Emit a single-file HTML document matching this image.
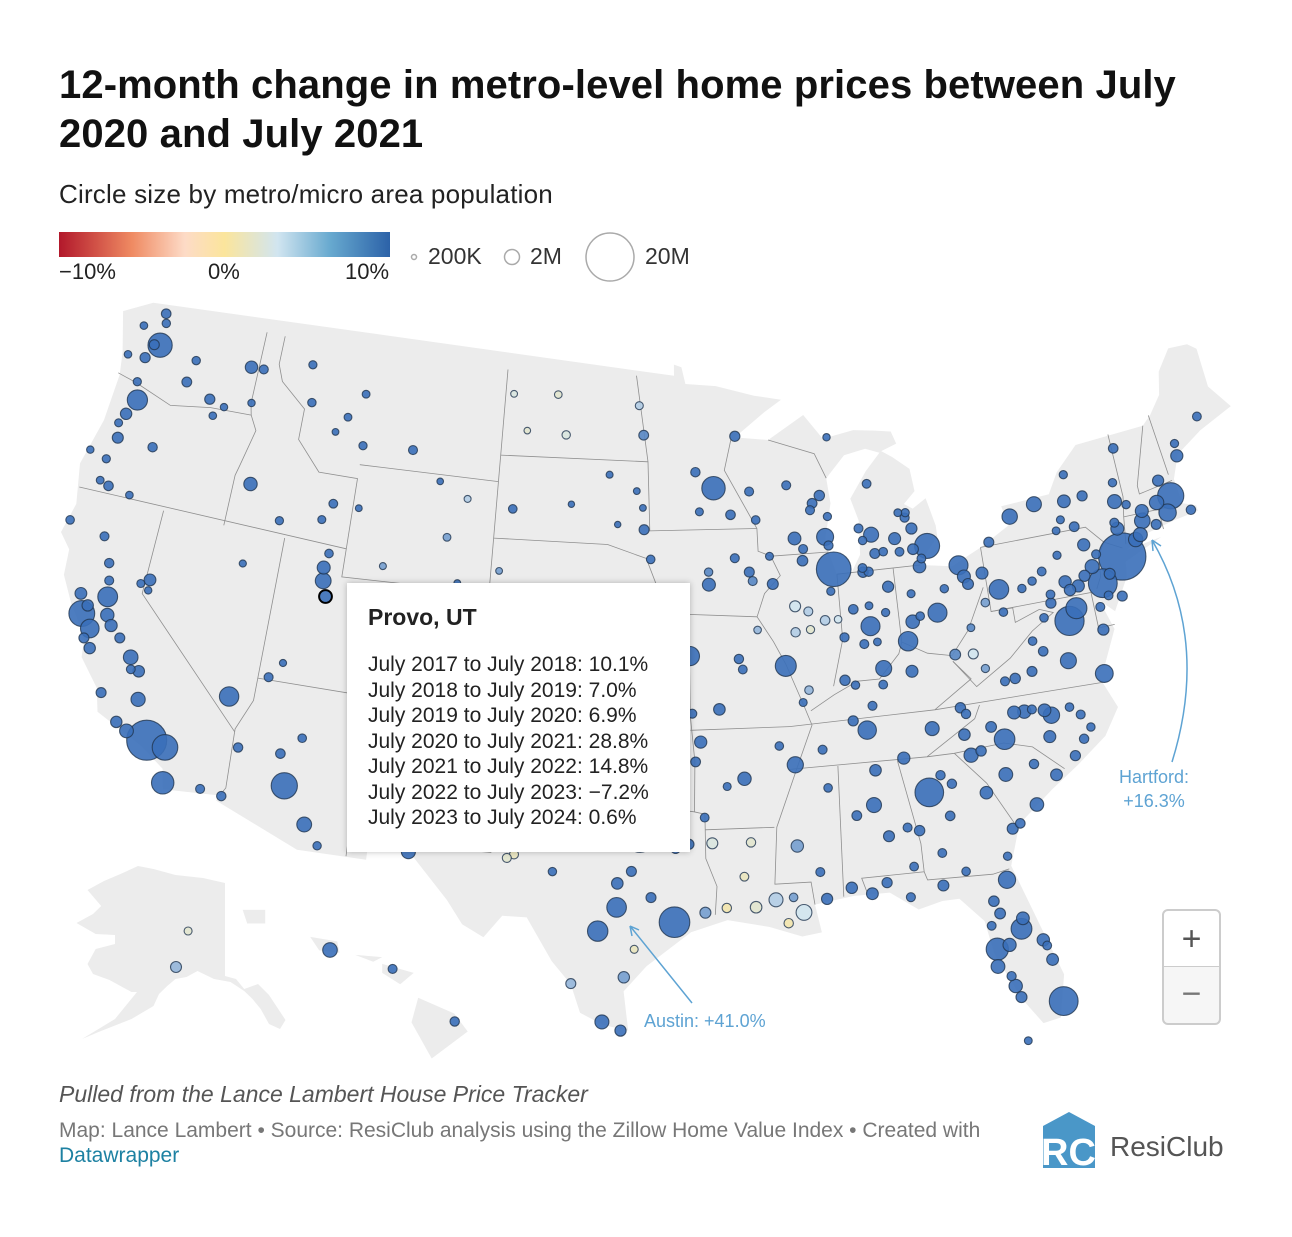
<!DOCTYPE html>
<html><head><meta charset="utf-8">
<style>
body{margin:0;background:#fff;font-family:"Liberation Sans",sans-serif;}
#wrap{position:relative;width:1292px;height:1237px;overflow:hidden;background:#fff;}
.t{position:absolute;white-space:nowrap;}
</style></head>
<body>
<div id="wrap">
<div class="t" style="left:59px;top:61px;font-size:40px;font-weight:bold;color:#111;line-height:49px;letter-spacing:0.1px;">12-month change in metro-level home prices between July<br>2020 and July 2021</div>
<div class="t" style="left:59px;top:179px;font-size:26px;color:#222;letter-spacing:0.2px;">Circle size by metro/micro area population</div>
<div style="position:absolute;left:59px;top:232px;width:331px;height:25px;background:linear-gradient(90deg,#b2182b 0%,#ef8a62 22%,#fddbc7 38%,#fbe59c 50%,#d1e5f0 66%,#67a9cf 82%,#2c62a8 100%);"></div>
<div class="t" style="left:59px;top:259px;font-size:22px;color:#222;">−10%</div>
<div class="t" style="left:208px;top:259px;font-size:22px;color:#222;">0%</div>
<div class="t" style="left:345px;top:259px;font-size:22px;color:#222;">10%</div>
<div class="t" style="left:428px;top:243px;font-size:23px;color:#333;">200K</div>
<div class="t" style="left:530px;top:243px;font-size:23px;color:#333;">2M</div>
<div class="t" style="left:645px;top:243px;font-size:23px;color:#333;">20M</div>

<svg id="map" width="1292" height="1237" style="position:absolute;left:0;top:0;">
<circle cx="414" cy="257" r="2.5" fill="none" stroke="#aaa" stroke-width="1.5"/>
<circle cx="512" cy="257" r="7.5" fill="none" stroke="#aaa" stroke-width="1.5"/>
<circle cx="610" cy="257" r="24" fill="none" stroke="#aaa" stroke-width="1.5"/>
<g id="land"></g><g id="borders"></g><g id="dots"></g><g id="annot"></g>
</svg>

<div style="position:absolute;left:347px;top:583px;width:343px;height:269px;background:#fff;box-shadow:0 0 6px rgba(0,0,0,0.25);">
<div class="t" style="left:21px;top:21px;font-size:23px;font-weight:bold;color:#222;">Provo, UT</div>
<div class="t" style="left:21px;top:69px;font-size:21px;color:#222;line-height:25.5px;">July 2017 to July 2018: 10.1%<br>July 2018 to July 2019: 7.0%<br>July 2019 to July 2020: 6.9%<br>July 2020 to July 2021: 28.8%<br>July 2021 to July 2022: 14.8%<br>July 2022 to July 2023: −7.2%<br>July 2023 to July 2024: 0.6%</div>
</div>

<div class="t" style="left:1119px;top:765px;font-size:18px;color:#5ea3d3;text-align:center;line-height:24px;">Hartford:<br>+16.3%</div>
<div class="t" style="left:644px;top:1011px;font-size:18px;color:#5ea3d3;">Austin: +41.0%</div>

<div style="position:absolute;left:1162px;top:909px;width:55px;height:56px;border:2px solid #ccc;border-bottom:1px solid #ccc;border-radius:6px 6px 0 0;background:#fff;font-size:34px;color:#555;text-align:center;line-height:56px;">+</div>
<div style="position:absolute;left:1162px;top:966px;width:55px;height:56px;border:2px solid #ccc;border-top:1px solid #ccc;border-radius:0 0 6px 6px;background:#f6f6f6;font-size:34px;color:#777;text-align:center;line-height:54px;">−</div>

<div class="t" style="left:59px;top:1081px;font-size:23px;font-style:italic;color:#555;">Pulled from the Lance Lambert House Price Tracker</div>
<div class="t" style="left:59px;top:1119px;font-size:21px;color:#777;">Map: Lance Lambert • Source: ResiClub analysis using the Zillow Home Value Index • Created with</div>
<div class="t" style="left:59px;top:1144px;font-size:21px;color:#1d81a2;">Datawrapper</div>
<svg width="56" height="58" style="position:absolute;left:1041px;top:1112px;">
<polygon points="28,0 54,14 54,56 2,56 2,14" fill="#4a97c8"/>
<text x="0" y="53" font-family="Liberation Sans" font-weight="bold" font-size="38" fill="#fff">RC</text>
</svg>
<div class="t" style="left:1110px;top:1131px;font-size:28px;color:#555;">ResiClub</div>
</div>

<script>
// metro data: [name, lon, lat, population (thousands), 12-month change %]
const metros = [
["Seattle",-122.33,47.61,4000,17],["Portland",-122.68,45.52,2500,14],["Spokane",-117.43,47.66,590,25],["Bellingham",-122.48,48.75,230,20],["Olympia",-122.9,47.04,300,20],["Bremerton",-122.63,47.57,275,20],["Mount Vernon",-122.33,48.42,130,20],["Wenatchee",-120.31,47.42,120,18],["Yakima",-120.5,46.6,250,15],["Kennewick",-119.14,46.21,300,18],["Walla Walla",-118.34,46.06,60,15],["Longview WA",-122.94,46.14,110,20],["Aberdeen",-123.8,46.98,75,22],["Port Angeles",-123.43,48.12,77,20],["Salem",-123.03,44.94,430,17],["Eugene",-123.09,44.05,380,17],["Corvallis",-123.26,44.56,95,15],["Bend",-121.31,44.06,200,20],["Medford",-122.87,42.33,220,16],["Grants Pass",-123.33,42.44,88,18],["Klamath Falls",-121.78,42.22,68,18],["Roseburg",-123.34,43.22,110,18],["Coos Bay",-124.22,43.37,64,20],["Pendleton",-118.79,45.67,75,15],
["Boise",-116.2,43.62,750,30],["Idaho Falls",-112.03,43.49,150,25],["Pocatello",-112.45,42.87,95,22],["Twin Falls",-114.46,42.56,110,22],["Coeur d'Alene",-116.78,47.68,170,30],["Lewiston",-117.02,46.42,63,22],["Missoula",-113.99,46.87,120,22],["Billings",-108.5,45.78,180,17],["Great Falls",-111.3,47.5,82,15],["Bozeman",-111.04,45.68,115,25],["Helena",-112.03,46.59,80,18],["Kalispell",-114.31,48.2,105,25],["Butte",-112.53,46.0,35,18],["Casper",-106.31,42.87,80,8],["Cheyenne",-104.82,41.14,100,14],["Rock Springs",-109.2,41.59,43,8],["Sheridan",-106.95,44.8,30,10],["Gillette",-105.5,44.29,47,6],["Jackson",-110.76,43.48,35,20],["Laramie",-105.59,41.31,38,12],["Rapid City",-103.23,44.08,145,17],
["Salt Lake City",-111.89,40.76,1250,25],["Ogden",-111.97,41.22,700,25],["Logan",-111.83,41.74,140,25],["St George",-113.58,37.1,180,28],["Cedar City",-113.06,37.68,55,22],["Denver",-104.99,39.74,2950,17],["Colorado Springs",-104.82,38.83,750,19],["Fort Collins",-105.08,40.59,360,17],["Boulder",-105.27,40.01,330,17],["Greeley",-104.71,40.42,330,17],["Pueblo",-104.61,38.25,170,17],["Grand Junction",-108.55,39.06,155,17],["Durango",-107.88,37.28,56,15],["Las Vegas",-115.14,36.17,2260,22],["Reno",-119.81,39.53,490,20],["Carson City",-119.77,39.16,58,20],["Elko",-115.76,40.83,53,15],["Phoenix",-112.07,33.45,4900,29],["Tucson",-110.97,32.22,1050,22],["Flagstaff",-111.65,35.2,145,20],["Prescott",-112.47,34.54,235,25],["Lake Havasu",-114.32,34.48,210,25],["Yuma",-114.62,32.69,210,16],["Sierra Vista",-110.3,31.55,125,14],["Albuquerque",-106.65,35.08,920,15],["Santa Fe",-105.94,35.69,150,15],["Las Cruces",-106.76,32.32,220,15],["Farmington",-108.21,36.73,120,10],
["Los Angeles",-118.24,34.05,13200,17],["Riverside",-117.4,33.95,4600,20],["San Diego",-117.16,32.72,3300,18],["San Francisco",-122.42,37.77,4700,17],["San Jose",-121.89,37.34,2000,17],["Sacramento",-121.49,38.58,2400,19],["Fresno",-119.79,36.74,1000,17],["Bakersfield",-119.02,35.37,900,16],["Stockton",-121.29,37.96,780,20],["Modesto",-121,37.64,550,20],["Santa Rosa",-122.71,38.44,490,16],["Oxnard",-119.18,34.2,840,15],["Santa Barbara",-119.7,34.42,450,14],["San Luis Obispo",-120.66,35.28,280,16],["Salinas",-121.66,36.68,435,16],["Santa Cruz",-122.03,36.97,270,16],["Vallejo",-122.26,38.1,450,18],["Visalia",-119.29,36.33,470,16],["Merced",-120.48,37.3,280,18],["Chico",-121.84,39.73,210,17],["Redding",-122.39,40.59,180,17],["Eureka",-124.16,40.8,135,15],["Yuba City",-121.62,39.14,175,19],["El Centro",-115.56,32.79,180,15],["Hanford",-119.65,36.33,150,17],["Truckee",-120.18,39.33,100,20],
["Dallas",-96.8,32.78,7600,20],["Houston",-95.37,29.76,7100,12],["San Antonio",-98.49,29.42,2550,15],["Austin",-97.74,30.27,2300,41],["El Paso",-106.49,31.76,860,14],["Midland",-102.08,31.99,180,2],["Odessa",-102.37,31.85,165,3],["Lubbock",-101.86,33.58,320,14],["Amarillo",-101.83,35.22,265,12],["Wichita Falls",-98.49,33.91,150,10],["Abilene",-99.73,32.45,175,12],["San Angelo",-100.44,31.46,120,10],["Waco",-97.15,31.55,275,20],["Killeen",-97.73,31.12,460,18],["Tyler",-95.3,32.35,235,15],["Longview TX",-94.74,32.5,285,14],["Beaumont",-94.1,30.08,390,8],["Corpus Christi",-97.4,27.8,430,8],["Laredo",-99.5,27.53,275,7],["McAllen",-98.23,26.2,870,12],["Brownsville",-97.5,25.9,425,12],["College Station",-96.33,30.63,270,16],["Victoria",-97,28.8,100,2],["Sherman",-96.6,33.64,140,20],["Texarkana",-94.05,33.43,150,10],["Oklahoma City",-97.52,35.47,1430,14],["Tulsa",-95.99,36.15,1000,15],["Lawton",-98.39,34.6,125,8],["Enid",-97.88,36.4,60,6],["Little Rock",-92.29,34.75,750,12],["Fayetteville AR",-94.16,36.08,550,18],["Fort Smith",-94.4,35.39,250,12],["Jonesboro",-90.7,35.84,135,12],["Hot Springs",-93.05,34.5,100,15],["Shreveport",-93.75,32.52,395,4],["Monroe",-92.12,32.51,200,3],["Alexandria",-92.45,31.31,150,2],["Lafayette",-92.02,30.22,480,3],["Lake Charles",-93.22,30.23,210,1],["Baton Rouge",-91.19,30.45,870,6],["New Orleans",-90.07,29.95,1270,5],["Houma",-90.72,29.6,205,1],["Hammond",-90.46,30.5,135,8],["Jackson MS",-90.18,32.3,590,8],["Gulfport",-89.09,30.37,420,15],["Hattiesburg",-89.29,31.33,170,12],["Tupelo",-88.7,34.26,140,10],
["Memphis",-90.05,35.15,1340,15],["Nashville",-86.78,36.16,1930,20],["Knoxville",-83.92,35.96,880,20],["Chattanooga",-85.31,35.05,560,20],["Clarksville",-87.36,36.53,300,18],["Johnson City",-82.35,36.31,205,18],["Kingsport",-82.56,36.55,305,18],["Jackson TN",-88.81,35.61,180,14],["Birmingham",-86.8,33.52,1100,13],["Huntsville",-86.59,34.73,470,18],["Montgomery",-86.3,32.38,385,10],["Mobile",-88.04,30.69,430,12],["Tuscaloosa",-87.57,33.21,250,13],["Dothan",-85.39,31.22,150,14],["Auburn",-85.48,32.61,165,15],["Atlanta",-84.39,33.75,6000,17],["Augusta",-81.97,33.47,610,15],["Savannah",-81.1,32.08,400,17],["Columbus GA",-84.99,32.46,320,13],["Macon",-83.63,32.84,230,15],["Athens",-83.38,33.95,215,17],["Albany GA",-84.16,31.58,150,12],["Valdosta",-83.28,30.83,145,14],["Gainesville GA",-83.82,34.3,205,20],["Brunswick",-81.49,31.15,120,18],
["Jacksonville",-81.66,30.33,1600,20],["Tampa",-82.46,27.95,3200,22],["Orlando",-81.38,28.54,2700,17],["Miami",-80.19,25.76,6100,18],["Cape Coral",-81.95,26.56,770,25],["Sarasota",-82.53,27.34,830,25],["Lakeland",-81.95,28.04,720,22],["Palm Bay",-80.59,28.03,600,22],["Port St Lucie",-80.35,27.29,490,24],["Deltona",-81.26,28.9,670,22],["Naples",-81.79,26.14,380,25],["Ocala",-82.14,29.19,370,20],["Gainesville FL",-82.32,29.65,330,18],["Tallahassee",-84.28,30.44,385,15],["Pensacola",-87.22,30.42,500,20],["Panama City",-85.66,30.16,175,20],["Crestview",-86.57,30.76,285,22],["Punta Gorda",-82.05,26.93,190,25],["Sebastian",-80.47,27.81,160,24],["Homosassa",-82.55,28.8,150,22],["Key West",-81.78,24.56,80,20],
["Charlotte",-80.84,35.23,2600,18],["Raleigh",-78.64,35.78,1400,20],["Durham",-78.9,35.99,650,18],["Greensboro",-79.79,36.07,770,16],["Winston-Salem",-80.24,36.1,680,16],["Fayetteville NC",-78.88,35.05,520,14],["Wilmington NC",-77.94,34.23,300,18],["Asheville",-82.55,35.6,470,18],["Hickory",-81.34,35.73,370,17],["Greenville NC",-77.37,35.61,180,14],["Jacksonville NC",-77.43,34.75,200,14],["Rocky Mount",-77.79,35.94,145,15],["New Bern",-77.04,35.11,125,15],["Burlington NC",-79.44,36.1,170,18],["Columbia SC",-81.03,34,840,15],["Charleston SC",-79.93,32.78,800,18],["Greenville SC",-82.39,34.85,930,16],["Spartanburg",-81.93,34.95,320,17],["Myrtle Beach",-78.89,33.69,500,18],["Florence",-79.76,34.2,205,12],["Hilton Head",-80.75,32.22,220,20],["Virginia Beach",-75.98,36.85,1800,12],["Richmond",-77.44,37.54,1300,14],["Roanoke",-79.94,37.27,315,14],["Lynchburg",-79.14,37.41,260,12],["Charlottesville",-78.48,38.03,220,14],["Harrisonburg",-78.87,38.45,135,15],["Blacksburg",-80.41,37.23,165,14],["Winchester",-78.16,39.18,140,17],
["Washington",-77.04,38.9,6300,10],["Baltimore",-76.61,39.29,2800,12],["Salisbury",-75.6,38.36,420,17],["Hagerstown",-77.72,39.64,290,18],["Dover",-75.52,39.16,180,15],["Philadelphia",-75.17,39.95,6100,14],["Pittsburgh",-79.99,40.44,2300,12],["Allentown",-75.49,40.6,860,17],["Harrisburg",-76.88,40.27,590,16],["Lancaster",-76.31,40.04,550,15],["York",-76.73,39.96,450,16],["Reading",-75.93,40.34,420,18],["Scranton",-75.66,41.41,560,17],["Erie",-80.09,42.13,270,13],["State College",-77.86,40.79,160,10],["Williamsport",-77.0,41.24,115,14],["Johnstown",-78.92,40.33,130,12],["Altoona",-78.39,40.52,120,12],["Chambersburg",-77.66,39.94,155,17],["East Stroudsburg",-75.18,40.99,170,20],
["New York",-74.0,40.71,19200,17],["Bridgeport",-73.2,41.18,950,20],["Hartford",-72.68,41.76,1200,16],["New Haven",-72.93,41.31,860,18],["Norwich",-72.08,41.52,270,18],["Boston",-71.06,42.36,4900,17],["Providence",-71.41,41.82,1650,20],["Worcester",-71.8,42.26,950,20],["Springfield MA",-72.59,42.1,700,17],["Barnstable",-70.3,41.7,215,25],["Pittsfield",-73.25,42.45,125,20],["Manchester NH",-71.46,42.99,420,20],["Portland ME",-70.26,43.66,550,22],["Bangor",-68.77,44.8,150,20],["Lewiston ME",-70.21,44.1,110,22],["Burlington VT",-73.21,44.48,225,15],["Albany",-73.76,42.65,880,15],["Buffalo",-78.88,42.89,1160,16],["Rochester NY",-77.61,43.16,1070,16],["Syracuse",-76.15,43.05,650,14],["Utica",-75.23,43.1,290,15],["Binghamton",-75.92,42.1,240,14],["Ithaca",-76.5,42.44,100,12],["Elmira",-76.81,42.09,85,14],["Kingston",-74,41.93,180,20],["Watertown NY",-75.91,43.97,115,12],["Glens Falls",-73.64,43.31,125,16],["Poughkeepsie",-73.93,41.7,700,20],["Atlantic City",-74.42,39.36,270,20],["Trenton",-74.76,40.22,380,16],["Vineland",-75.03,39.49,150,18],
["Chicago",-87.63,41.88,9500,12],["Detroit",-83.05,42.33,4300,14],["Grand Rapids",-85.67,42.96,1080,17],["Lansing",-84.56,42.73,540,16],["Ann Arbor",-83.74,42.28,370,12],["Flint",-83.69,43.01,405,18],["Kalamazoo",-85.59,42.29,265,17],["Saginaw",-83.95,43.42,190,16],["Muskegon",-86.25,43.23,175,20],["Traverse City",-85.62,44.76,150,18],["Battle Creek",-85.18,42.32,135,17],["Jackson MI",-84.4,42.25,160,17],["Monroe MI",-83.4,41.92,150,16],["Niles",-86.25,41.83,155,17],["Holland",-86.11,42.79,120,17],["Marquette",-87.4,46.54,67,15],["Bay City",-83.89,43.59,104,16],["Midland MI",-84.25,43.62,83,15],
["Columbus",-82.99,39.96,2100,16],["Cleveland",-81.69,41.5,2100,14],["Cincinnati",-84.51,39.1,2250,14],["Dayton",-84.19,39.76,800,14],["Akron",-81.52,41.08,700,15],["Toledo",-83.54,41.65,640,16],["Youngstown",-80.65,41.1,540,14],["Canton",-81.38,40.8,400,15],["Springfield OH",-83.81,39.92,135,15],["Mansfield",-82.52,40.76,125,14],["Lima",-84.1,40.74,100,14],["Indianapolis",-86.16,39.77,2100,15],["Fort Wayne",-85.14,41.08,420,17],["South Bend",-86.25,41.68,325,17],["Evansville",-87.56,37.97,315,14],["Lafayette IN",-86.88,40.42,225,14],["Bloomington IN",-86.53,39.17,170,13],["Terre Haute",-87.41,39.47,185,14],["Elkhart",-85.98,41.68,205,17],["Muncie",-85.39,40.19,115,15],["Kokomo",-86.13,40.49,85,15],["Columbus IN",-85.92,39.2,83,14],["Louisville",-85.76,38.25,1300,12],["Lexington",-84.5,38.04,520,12],["Bowling Green",-86.44,36.99,180,13],["Owensboro",-87.11,37.77,120,12],["Elizabethtown",-85.86,37.69,155,12],
["Milwaukee",-87.91,43.04,1580,13],["Madison",-89.4,43.07,670,13],["Green Bay",-88.02,44.51,325,14],["Appleton",-88.41,44.26,240,14],["Oshkosh",-88.54,44.02,170,13],["Eau Claire",-91.5,44.81,170,13],["La Crosse",-91.24,43.8,140,12],["Wausau",-89.63,44.96,165,14],["Racine",-87.78,42.73,195,13],["Janesville",-89.02,42.68,165,14],["Sheboygan",-87.71,43.75,115,14],["Minneapolis",-93.27,44.98,3650,11],["Rochester MN",-92.47,44.02,225,10],["St Cloud",-94.16,45.56,200,12],["Duluth",-92.1,46.79,290,13],["Mankato",-94,44.16,100,10],["Des Moines",-93.62,41.59,700,10],["Cedar Rapids",-91.67,41.98,275,10],["Davenport",-90.58,41.52,380,11],["Iowa City",-91.53,41.66,175,9],["Waterloo",-92.34,42.49,170,10],["Sioux City",-96.4,42.5,145,11],["Dubuque",-90.66,42.5,98,10],["Ames",-93.62,42.03,125,9],["Omaha",-95.94,41.26,950,13],["Lincoln",-96.7,40.81,340,13],["Grand Island",-98.34,40.92,75,12],["Kearney",-99.08,40.7,56,12],["North Platte",-100.77,41.12,36,10],["Scottsbluff",-103.66,41.87,38,8],["Sioux Falls",-96.73,43.54,275,14],["Fargo",-96.79,46.88,250,9],["Bismarck",-100.78,46.81,130,4],["Grand Forks",-97.03,47.93,100,6],["Minot",-101.3,48.23,75,3],["Williston",-103.62,48.15,37,4],["Dickinson",-102.79,46.88,31,3],["Aberdeen SD",-98.49,45.46,43,10],["Watertown SD",-97.11,44.9,35,12],["Brookings",-96.8,44.31,35,11],["Mitchell",-98.03,43.71,23,10],["Pierre",-100.35,44.37,20,10],
["Kansas City",-94.58,39.1,2200,14],["St Louis",-90.2,38.63,2800,12],["Springfield MO",-93.29,37.21,470,15],["Columbia MO",-92.33,38.95,210,13],["Joplin",-94.51,37.08,180,14],["Jefferson City",-92.17,38.58,150,12],["Cape Girardeau",-89.52,37.31,98,11],["St Joseph",-94.85,39.77,120,11],["Wichita",-97.34,37.69,640,12],["Topeka",-95.69,39.05,230,13],["Lawrence",-95.24,38.97,120,13],["Manhattan",-96.57,39.18,130,9],["Salina",-97.61,38.84,60,8],["Hutchinson",-97.93,38.06,63,8],["Garden City",-100.87,37.97,40,5],["Dodge City",-100.02,37.75,34,5],["Hays",-99.33,38.88,29,6],
["Springfield IL",-89.65,39.78,205,6],["Peoria",-89.59,40.69,400,5],["Champaign",-88.24,40.12,225,6],["Bloomington IL",-88.99,40.48,170,6],["Rockford",-89.09,42.27,340,13],["Decatur",-88.95,39.84,105,3],["Carbondale",-89.22,37.73,135,7],["Quincy",-91.41,39.94,75,7],["Kankakee",-87.86,41.12,110,12],["Danville IL",-87.63,40.12,75,5],["Charleston WV",-81.63,38.35,260,5],["Huntington",-82.45,38.42,360,9],["Morgantown",-79.96,39.63,140,10],["Parkersburg",-81.56,39.27,90,9],["Wheeling",-80.72,40.06,140,8],["Beckley",-81.19,37.78,115,8],
["Provo",-111.66,40.23,650,29]
];
const alaskaMetros = [["Anchorage",-149.9,61.2,400,7],["Fairbanks",-147.7,64.8,100,3]];
const hawaiiMetros = [["Urban Honolulu",-157.86,21.31,1000,10],["Kahului",-156.47,20.89,165,12],["Hilo",-155.09,19.72,200,13]];
const colorStops = [-10,-5,0,5,10];
const colorValues = ["#b2182b","#ef8a62","#fbe59c","#d1e5f0","#3a6fb9"];

const SVGNS="http://www.w3.org/2000/svg";
const D=Math.PI/180,n=0.60285,C=1.3512,rho0=1.3032,K=1620,X0=659,Y0=702;
function proj(lon,lat){const rho=Math.sqrt(C-2*n*Math.sin(lat*D))/n;const th=n*(lon+96)*D;return [X0+K*rho*Math.sin(th),Y0-K*(rho0-rho*Math.cos(th))];}
function projAK(lon,lat){return [176+(lon+149.9)*5.5,967-(lat-61.2)*10];}
function projHI(lon,lat){return [330+(lon+157.86)*45,950-(lat-21.31)*45];}
function rScale(p){return 2.5+21.5*Math.sqrt(p/20000);}
function hex(h){return [1,3,5].map(i=>parseInt(h.substr(i,2),16));}
function colorScale(v){v=Math.max(-10,Math.min(10,v));for(let i=0;i<colorStops.length-1;i++){if(v<=colorStops[i+1]){const t=(v-colorStops[i])/(colorStops[i+1]-colorStops[i]);const a=hex(colorValues[i]),b=hex(colorValues[i+1]);return "rgb("+a.map((c,j)=>Math.round(c+(b[j]-c)*t)).join(",")+")";}}return colorValues[4];}
function path(pts,f){return pts.map((p,i)=>{const q=f(p[0],p[1]);return (i?"L":"M")+q[0].toFixed(1)+","+q[1].toFixed(1);}).join("");}

const us=[[-124.7,48.4],[-123.3,49],[-95.2,49],[-95.2,49.4],[-94.8,49.3],[-94.6,48.7],[-93,48.6],[-91,48.2],[-89.6,48],[-90.5,47.6],[-92.1,46.75],[-90.4,46.6],[-88.5,47.4],[-87.6,46.5],[-86,46.7],[-84.9,46.6],[-84.1,46.5],[-83.9,46.05],[-84.7,45.85],[-84.2,45.6],[-83.4,45.1],[-83.3,44.3],[-83.9,43.9],[-83.5,43.7],[-82.8,44],[-82.5,43],[-82.5,42.6],[-83.1,42.1],[-83.5,41.7],[-82,41.5],[-80.5,42],[-79,42.6],[-79.2,43.3],[-76.8,43.4],[-76.2,44.1],[-75,44.9],[-71.5,45],[-71,45.3],[-70.3,45.9],[-70,46.7],[-69.2,47.4],[-68.2,47.35],[-67.8,47.1],[-67.8,45.7],[-67,44.8],[-68.8,44.3],[-70.2,43.7],[-70.7,42.9],[-70.6,42],[-70,41.8],[-70,41.6],[-71.2,41.5],[-72.9,41.25],[-73.7,40.9],[-72,41.05],[-73.9,40.5],[-74,40],[-74.9,38.9],[-75.5,39.4],[-75.1,38.3],[-75.9,37.1],[-76.3,36.9],[-75.7,35.6],[-76.5,34.7],[-77.9,33.9],[-79.2,33.2],[-80.8,32.2],[-81.4,30.8],[-80.6,28.5],[-80,26.7],[-80.4,25.2],[-81.1,25.1],[-81.8,26.1],[-82.6,27.8],[-82.8,29],[-83.7,29.9],[-84.4,29.9],[-85.4,29.7],[-86.5,30.4],[-88,30.4],[-89.6,30.2],[-89.4,29.2],[-90.2,29.1],[-91.5,29.5],[-93.2,29.8],[-94.7,29.4],[-96.5,28.2],[-97.4,27.3],[-97.2,25.9],[-98.2,26.1],[-99.1,26.5],[-99.5,27.5],[-100.3,28.3],[-101.4,29.8],[-102.4,29.8],[-103.1,29],[-104,29.4],[-104.7,30.2],[-106.5,31.8],[-108.2,31.8],[-108.2,31.3],[-111.1,31.3],[-114.8,32.5],[-114.7,32.7],[-117.1,32.5],[-117.3,33.2],[-118.4,33.8],[-119.2,34.1],[-120.6,34.6],[-120.9,35.4],[-121.9,36.3],[-122,36.9],[-122.5,37.5],[-123,38],[-123.7,38.9],[-123.8,39.8],[-124.4,40.3],[-124.1,41.4],[-124.5,42.8],[-124,44.5],[-123.9,46.2],[-124.1,47],[-124.7,48.4]];
const lakeMich=[[-87.8,42.5],[-87.5,41.7],[-86.8,41.7],[-86.3,42.3],[-86.2,43.5],[-86.5,44.3],[-85.6,45.2],[-84.8,45.8],[-85.5,46.0],[-86.6,45.85],[-87.6,45.1],[-87.5,44.2],[-87.9,43],[-87.8,42.5]];
const alaska=[[-141,69.6],[-145,70.1],[-150,70.4],[-154,71],[-156.8,71.3],[-160,70.5],[-163,69.8],[-166,68.9],[-163.5,67.3],[-165,66.5],[-168,65.6],[-164.5,64.5],[-161,64.4],[-161,63.5],[-164.5,63],[-166,61.5],[-165,60.5],[-162,59.9],[-158,58.7],[-157,58.7],[-161,56],[-164,55],[-167,54],[-164,54.7],[-158,56],[-154,57.3],[-153,58.5],[-151.5,59.3],[-150,60],[-148,60.2],[-146,60.8],[-143,60],[-140,59.7],[-137.5,58.8],[-136,58],[-134.5,57],[-133,55.5],[-131,55],[-130,55.9],[-133,58.4],[-135,59.5],[-137.5,59],[-139,60],[-141,60.3]];
const hiIslands=[[[-159.8,22.2],[-159.3,22.2],[-159.3,21.9],[-159.7,21.9]],[[-158.3,21.6],[-157.7,21.5],[-157.65,21.25],[-158.1,21.3]],[[-157.3,21.2],[-156.7,21.15],[-156.9,21.05]],[[-156.7,21.0],[-156.0,20.8],[-156.3,20.55],[-156.7,20.8]],[[-155.9,20.25],[-155.1,19.9],[-154.8,19.5],[-155.6,18.9],[-156.05,19.7]]];
const borders=[
[[-124,46.25],[-123,46.1],[-121,45.65],[-119,45.93],[-116.9,46]],[[-117.04,49],[-117.04,46.4],[-116.9,46],[-116.5,45.5],[-116.9,44.2],[-117.03,43.8],[-117.03,42]],[[-124.2,42],[-111.05,42]],[[-120,42],[-120,39],[-114.6,35]],[[-114.05,42],[-114.05,36.2],[-114.6,35.1],[-114.5,33],[-114.7,32.7]],[[-114.05,37],[-109.05,37]],[[-116.05,49],[-116.05,47.98],[-115.7,47.4],[-114.3,46.6],[-114.3,45.5],[-113,44.5],[-111.05,44.5],[-111.05,41],[-102.05,41],[-102.05,37]],[[-111.05,45],[-104.05,45]],[[-104.05,49],[-104.05,41]],[[-109.05,41],[-109.05,31.33]],[[-109.05,37],[-94.6,37]],[[-104.05,45.94],[-96.56,45.94]],[[-104.05,43],[-98.5,43],[-96.5,42.5]],[[-97.2,49],[-96.56,45.94],[-96.45,43.5],[-91.2,43.5]],[[-102.05,40],[-95.3,40],[-96.6,42.5]],[[-103.05,37],[-103.05,32],[-106.6,32],[-106.6,31.8]],[[-103.05,36.5],[-100,36.5],[-100,34.56],[-98,34],[-96,33.8],[-94.5,33.64],[-94.04,33.55],[-94.04,31.99],[-93.6,31],[-93.7,30]],[[-94.6,37],[-94.43,35.4],[-94.48,33.64]],[[-94.04,33],[-91.1,33]],[[-94.6,37],[-94.6,39.1],[-95.3,40]],[[-95.8,40.6],[-91.4,40.4]],[[-92.3,46.7],[-92.7,45.6],[-91.2,43.5],[-91.2,42.7],[-90.6,42.5],[-90.2,41.8],[-91,41.2],[-91.4,40.4],[-90.7,39.5],[-90.2,38.7],[-89.5,37.2],[-89.2,36.5],[-90,35],[-91,33],[-91.2,31],[-89.7,31],[-89.6,30.2]],[[-94.6,36.5],[-90.2,36.5]],[[-90.6,42.5],[-87.8,42.5]],[[-87.5,41.7],[-87.5,39.4],[-88.1,37.8]],[[-89.2,37],[-88.1,37.5],[-87,37.9],[-86,37.9],[-85,38.7],[-84.8,39.1],[-83.7,38.6],[-82.6,38.4],[-81.7,39.2],[-80.7,40.6]],[[-84.8,41.7],[-84.8,39.1]],[[-87.5,41.7],[-83.5,41.7]],[[-80.52,42],[-80.52,39.72],[-79.5,39.72],[-79.5,39.2],[-78.3,39.5],[-77.7,39.3],[-78.8,38.8],[-80,38],[-81.7,37.2],[-82.6,38.2]],[[-80.52,39.72],[-75.8,39.72],[-75.8,38.45],[-75.05,38.45]],[[-80.52,42],[-75.4,42],[-74.7,41.35],[-73.9,41]],[[-75.9,36.55],[-83.7,36.6],[-90.2,36.5]],[[-83.7,36.6],[-81.9,37.5],[-82.6,38.2]],[[-90.3,35],[-84.3,35],[-83.1,35],[-80.9,35.1],[-79.7,34.8],[-78.5,33.85]],[[-88.2,35],[-88.4,30.4]],[[-85.6,35],[-85,32],[-85,31],[-87.6,31],[-87.4,30.4]],[[-85,31],[-84.9,30.7],[-82.2,30.6],[-81.5,30.7]],[[-83.1,35],[-81.9,33.8],[-80.9,32.1]],[[-84.3,35],[-82,36.1],[-81.7,36.55]],[[-73.3,45],[-73.3,42.75],[-73.5,42.05],[-73.7,41.1]],[[-73.5,42.05],[-71.4,42]],[[-71.8,42],[-71.8,41.3]],[[-71.5,45],[-72.5,43],[-72.5,42.7],[-70.8,42.87]],[[-71.1,45.3],[-70.9,43.1]],[[-74.7,41.35],[-75.1,40.9],[-75.2,40.2],[-75.5,39.8]],[[-90.4,46.6],[-88.1,46],[-87.6,45.1]]];

const land=document.getElementById('land');
function addPath(g,d,fill,stroke,name){const p=document.createElementNS(SVGNS,'path');p.setAttribute('d',d);p.setAttribute('fill',fill);p.setAttribute('stroke',stroke);p.setAttribute('stroke-width','0.8');


g.appendChild(p);}
addPath(land,path(us,proj)+"Z","#ececec","none","conterminous-us");
addPath(land,path(lakeMich,proj)+"Z","#ffffff","none","lake-michigan");
addPath(land,path(alaska,projAK)+"Z","#ececec","none","alaska-inset");
hiIslands.forEach(h=>addPath(land,path(h,projHI)+"Z","#ececec","none","hawaii-island"));
const bg=document.getElementById('borders');
borders.forEach(b=>addPath(bg,path(b,proj),"none","#8f8f8f","state-border"));

const dots=document.getElementById('dots');
const all=metros.map(m=>[m,proj]).concat(alaskaMetros.map(m=>[m,projAK]),hawaiiMetros.map(m=>[m,projHI]));
all.sort((a,b)=>b[0][3]-a[0][3]);
all.forEach(([m,f])=>{const q=f(m[1],m[2]);const c=document.createElementNS(SVGNS,'circle');
c.setAttribute('cx',q[0].toFixed(1));c.setAttribute('cy',q[1].toFixed(1));c.setAttribute('r',rScale(m[3]).toFixed(1));
c.setAttribute('fill',colorScale(m[4]));c.setAttribute('fill-opacity','0.9');
const hl=m[0]==="Provo";
c.setAttribute('stroke',hl?'#000':'#203650');c.setAttribute('stroke-width',hl?'2':'1.1');c.setAttribute('stroke-opacity',hl?'1':'0.8');


dots.appendChild(c);});

const an=document.getElementById('annot');
const h=document.createElementNS(SVGNS,'path');h.setAttribute('d','M1172,762 Q1210,640 1152,540 M1152,540 l1,11 M1152,540 l9,6');h.setAttribute('fill','none');h.setAttribute('stroke','#5ea3d3');h.setAttribute('stroke-width','1.5');


an.appendChild(h);
const a=document.createElementNS(SVGNS,'path');a.setAttribute('d','M692,1003 L630,926 M630,926 l2,10 M630,926 l9,4');a.setAttribute('fill','none');a.setAttribute('stroke','#5ea3d3');a.setAttribute('stroke-width','1.5');


an.appendChild(a);
</script>
</body></html>
